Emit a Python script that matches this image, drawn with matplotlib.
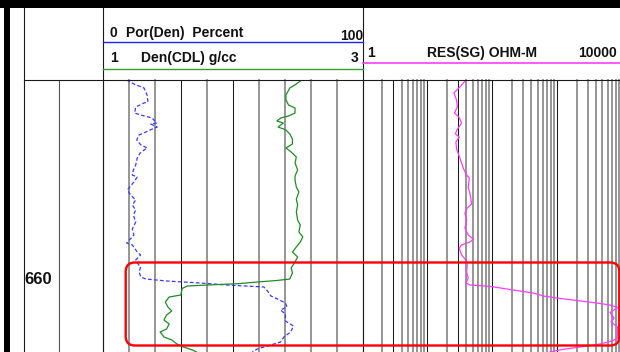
"""
Density / resistivity log panel over the 660 ft coal interval.
"""
import numpy as np
import matplotlib.pyplot as plt
from matplotlib.patches import Rectangle, FancyBboxPatch

plt.rcParams['font.family'] = ['Liberation Sans', 'DejaVu Sans']

# Depth window shown (ft)
depth_top, depth_base = 640.0, 667.2
depth_labels = [660]

# Por(Den), percent
por_depth = [640.0, 640.4, 640.8, 641.5, 642.2, 642.3, 642.7, 643.3, 643.5, 643.8,
             644.3, 644.4, 644.7, 644.9, 645.2, 645.5, 646.0, 646.5, 646.8, 647.0,
             647.3, 647.8, 648.5, 649.0, 649.5, 649.7, 650.2, 651.0, 651.5, 652.0,
             652.5, 653.0, 653.5, 654.2, 654.9, 655.5, 656.3, 656.5, 657.2, 657.5,
             658.0, 658.3, 658.7, 659.2, 659.7, 659.9, 660.1, 660.3, 660.5, 660.7,
             661.1, 661.6, 661.9, 662.3, 662.7, 663.0, 663.4, 664.1, 664.6, 665.2,
             665.7, 666.2, 666.5, 666.9, 667.2]
por = [9.1, 11.9, 15.8, 17.0, 17.3, 15.8, 12.6, 12.2, 14.5, 18.9,
       20.7, 18.4, 20.9, 19.0, 16.5, 13.9, 13.0, 14.6, 17.1, 15.8,
       14.3, 13.2, 12.6, 11.7, 11.3, 13.2, 11.9, 9.4, 10.7, 12.6,
       11.3, 12.6, 11.7, 12.6, 11.3, 11.9, 9.1, 11.3, 13.2, 14.5,
       12.6, 13.2, 14.5, 13.9, 14.6, 16.5, 24.5, 37.4, 47.7, 62.0,
       63.4, 64.7, 67.2, 70.3, 70.9, 68.4, 70.3, 70.3, 73.4, 72.3,
       69.7, 68.4, 64.6, 59.5, 57.5]

# Den(CDL), g/cc
den_depth = [640.0, 640.4, 640.8, 641.5, 642.0, 642.5, 642.8, 643.3, 643.6, 643.8,
             644.1, 644.3, 644.7, 645.0, 645.4, 645.9, 646.4, 646.8, 647.2, 647.7,
             648.3, 649.0, 649.6, 650.0, 650.7, 651.2, 651.9, 652.5, 653.2, 654.0,
             654.5, 655.2, 655.7, 656.2, 656.7, 657.2, 657.7, 658.2, 658.8, 659.3,
             659.9, 660.05, 660.2, 660.37, 660.47, 660.6, 660.85, 661.5, 661.7, 662.2,
             662.7, 663.1, 663.5, 664.0, 664.4, 664.9, 665.2, 665.7, 666.0, 666.4,
             666.7, 667.0, 667.2]
den = [2.53, 2.49, 2.44, 2.41, 2.41, 2.43, 2.48, 2.48, 2.43, 2.37,
       2.34, 2.39, 2.35, 2.41, 2.44, 2.46, 2.46, 2.41, 2.45, 2.49,
       2.48, 2.50, 2.48, 2.48, 2.49, 2.51, 2.49, 2.50, 2.49, 2.50,
       2.52, 2.51, 2.54, 2.52, 2.49, 2.46, 2.50, 2.48, 2.45, 2.46,
       2.44, 2.34, 2.19, 2.04, 1.86, 1.65, 1.61, 1.60, 1.51, 1.48,
       1.50, 1.53, 1.49, 1.47, 1.51, 1.49, 1.44, 1.47, 1.53, 1.57,
       1.62, 1.69, 1.72]

# RES(SG), ohm-m
res_depth = [640.0, 640.7, 641.3, 642.0, 642.7, 643.3, 643.7, 644.3, 645.0, 645.4,
             645.7, 646.2, 646.9, 647.8, 648.8, 649.5, 649.8, 650.8, 651.3, 652.4,
             652.8, 653.3, 654.0, 654.8, 655.5, 655.9, 656.2, 656.5, 656.8, 657.5,
             658.0, 658.5, 659.2, 659.8, 660.3, 660.5, 660.65, 661.0, 661.3, 661.6,
             661.8, 662.05, 662.3, 662.5, 662.75, 663.25, 663.8, 664.2, 664.7, 665.3,
             665.8, 666.1, 666.4, 666.7, 666.95, 667.2]
res = [39.3, 31.7, 25.6, 28.2, 29.0, 26.1, 30.6, 33.7, 28.5, 27.0,
       31.0, 27.5, 28.2, 31.7, 35.7, 40.3, 44.2, 42.6, 45.3, 48.1,
       41.1, 37.9, 40.3, 37.9, 42.6, 50.9, 45.3, 33.7, 31.0, 33.7,
       39.3, 41.1, 40.3, 42.6, 39.3, 45.3, 95.5, 211, 430, 612,
       986, 2005, 4080, 6550, 8550, 6550, 7550, 6790, 8550, 8550,
       8550, 7030, 4590, 2255, 1190, 777]

# Highlighted interval
zone_top, zone_base = 658.25, 666.55
zone_left_por = 8.75
zone_right_res = 9100

W, H = 620, 352
HDR = 80           # header bottom, px
X_DEP = 24         # depth track left edge
X_T1 = 103         # track 1 left edge
X_T2 = 362.5       # track 2 left edge
X_END = 622        # track 2 right edge

BLACK = '#1a1a1a'
GRAY = '#8e8e8e'

fig = plt.figure(figsize=(W / 100, H / 100), dpi=100)


def px_axes(x0, x1, y0, y1, **kw):
    return fig.add_axes([x0 / W, 1 - y1 / H, (x1 - x0) / W, (y1 - y0) / H], **kw)


def strip(ax):
    ax.set_xticks([])
    ax.set_yticks([])
    for s in ax.spines.values():
        s.set_visible(False)


# Depth track
ax_dep = px_axes(X_DEP, X_T1, HDR, H)
ax_dep.set_xlim(0, 1)
ax_dep.set_ylim(depth_base, depth_top)
strip(ax_dep)
ax_dep.axvline((59 - X_DEP) / (X_T1 - X_DEP), color='#555555', lw=0.8)
for d in depth_labels:
    ax_dep.text(0.01, d, str(d), fontsize=12, fontweight='bold',
                ha='left', va='center', color='#111111')

# Track 1: porosity / density (linear)
ax_por = px_axes(X_T1, X_T2, HDR, H, sharey=ax_dep)
ax_por.set_xlim(0, 100)
strip(ax_por)
for p in range(0, 101, 10):
    dark = p in (0, 30, 50, 100)
    ax_por.axvline(p, color=BLACK if dark else GRAY, lw=0.75 if dark else 1.3,
                   clip_on=False, zorder=1)
ax_por.plot(por, por_depth, color='#3a3aff', lw=0.9, dashes=(3, 1.8), zorder=3)

ax_den = ax_por.twiny()
ax_den.set_xlim(1, 3)
strip(ax_den)
ax_den.plot(den, den_depth, color='#1f8c24', lw=0.9, zorder=3)

# Track 2: resistivity (log, 4 decades)
ax_res = px_axes(X_T2, X_END, HDR, H, sharey=ax_dep)
ax_res.set_xscale('log')
ax_res.set_xlim(1, 10000)
strip(ax_res)
for dec in [1, 10, 100, 1000]:
    for m in range(1, 10):
        v = dec * m
        dark = v in (1, 3, 10, 30, 100, 1000)
        ax_res.axvline(v, color=BLACK if dark else GRAY, lw=0.75 if dark else 1.3,
                       clip_on=False, zorder=1)
ax_res.plot(res, res_depth, color='#ff3cff', lw=0.9, zorder=3)
ax_res.set_ylim(depth_base, depth_top)

# Header and frame, drawn in pixel space
ax_hdr = fig.add_axes([0, 0, 1, 1], facecolor='none')
ax_hdr.set_xlim(0, W)
ax_hdr.set_ylim(H, 0)
ax_hdr.axis('off')

ax_hdr.add_patch(Rectangle((0, 0), W, 8, color='black', lw=0))
ax_hdr.add_patch(Rectangle((4, 0), 6, H, color='black', lw=0))
for x in (X_DEP, X_T1, X_T2):
    ax_hdr.plot([x, x], [8, H], color=BLACK, lw=0.8)
ax_hdr.plot([X_DEP, W], [HDR, HDR], color=BLACK, lw=0.8)

hdr_font = dict(fontsize=10, fontweight='bold', color='#111111', va='center')
ax_hdr.text(109, 33, '0', ha='left', **hdr_font)
ax_hdr.text(126, 33, 'Por(Den)  Percent', ha='left', **hdr_font)
ax_hdr.text(363, 35.5, '100', ha='right', **hdr_font)
ax_hdr.plot([X_T1, X_T2], [42.3, 42.3], color='#2020ff', lw=1.0)

ax_hdr.text(110, 58, '1', ha='left', **hdr_font)
ax_hdr.text(141, 58, 'Den(CDL) g/cc', ha='left', **hdr_font)
ax_hdr.text(358, 58, '3', ha='right', **hdr_font)
ax_hdr.plot([X_T1, X_T2], [69.3, 69.3], color='#30a030', lw=1.0)

ax_hdr.text(367, 53, '1', ha='left', **hdr_font)
ax_hdr.text(482, 53, 'RES(SG) OHM-M', ha='center', **hdr_font)
ax_hdr.text(617, 53, '10000', ha='right', **hdr_font)
ax_hdr.plot([X_T2, W], [62.7, 62.7], color='#ff3cff', lw=1.2)

# Highlight box around the coal interval
to_px = ax_hdr.transData.inverted()
x0, y0 = to_px.transform(ax_por.transData.transform((zone_left_por, zone_top)))
x1, y1 = to_px.transform(ax_res.transData.transform((zone_right_res, zone_base)))
ax_hdr.add_patch(FancyBboxPatch((x0, y0), x1 - x0, y1 - y0,
                                boxstyle='round,pad=0,rounding_size=9',
                                fill=False, ec='#ff0000', lw=1.7, zorder=5))

fig.savefig('out.png', dpi=100)
